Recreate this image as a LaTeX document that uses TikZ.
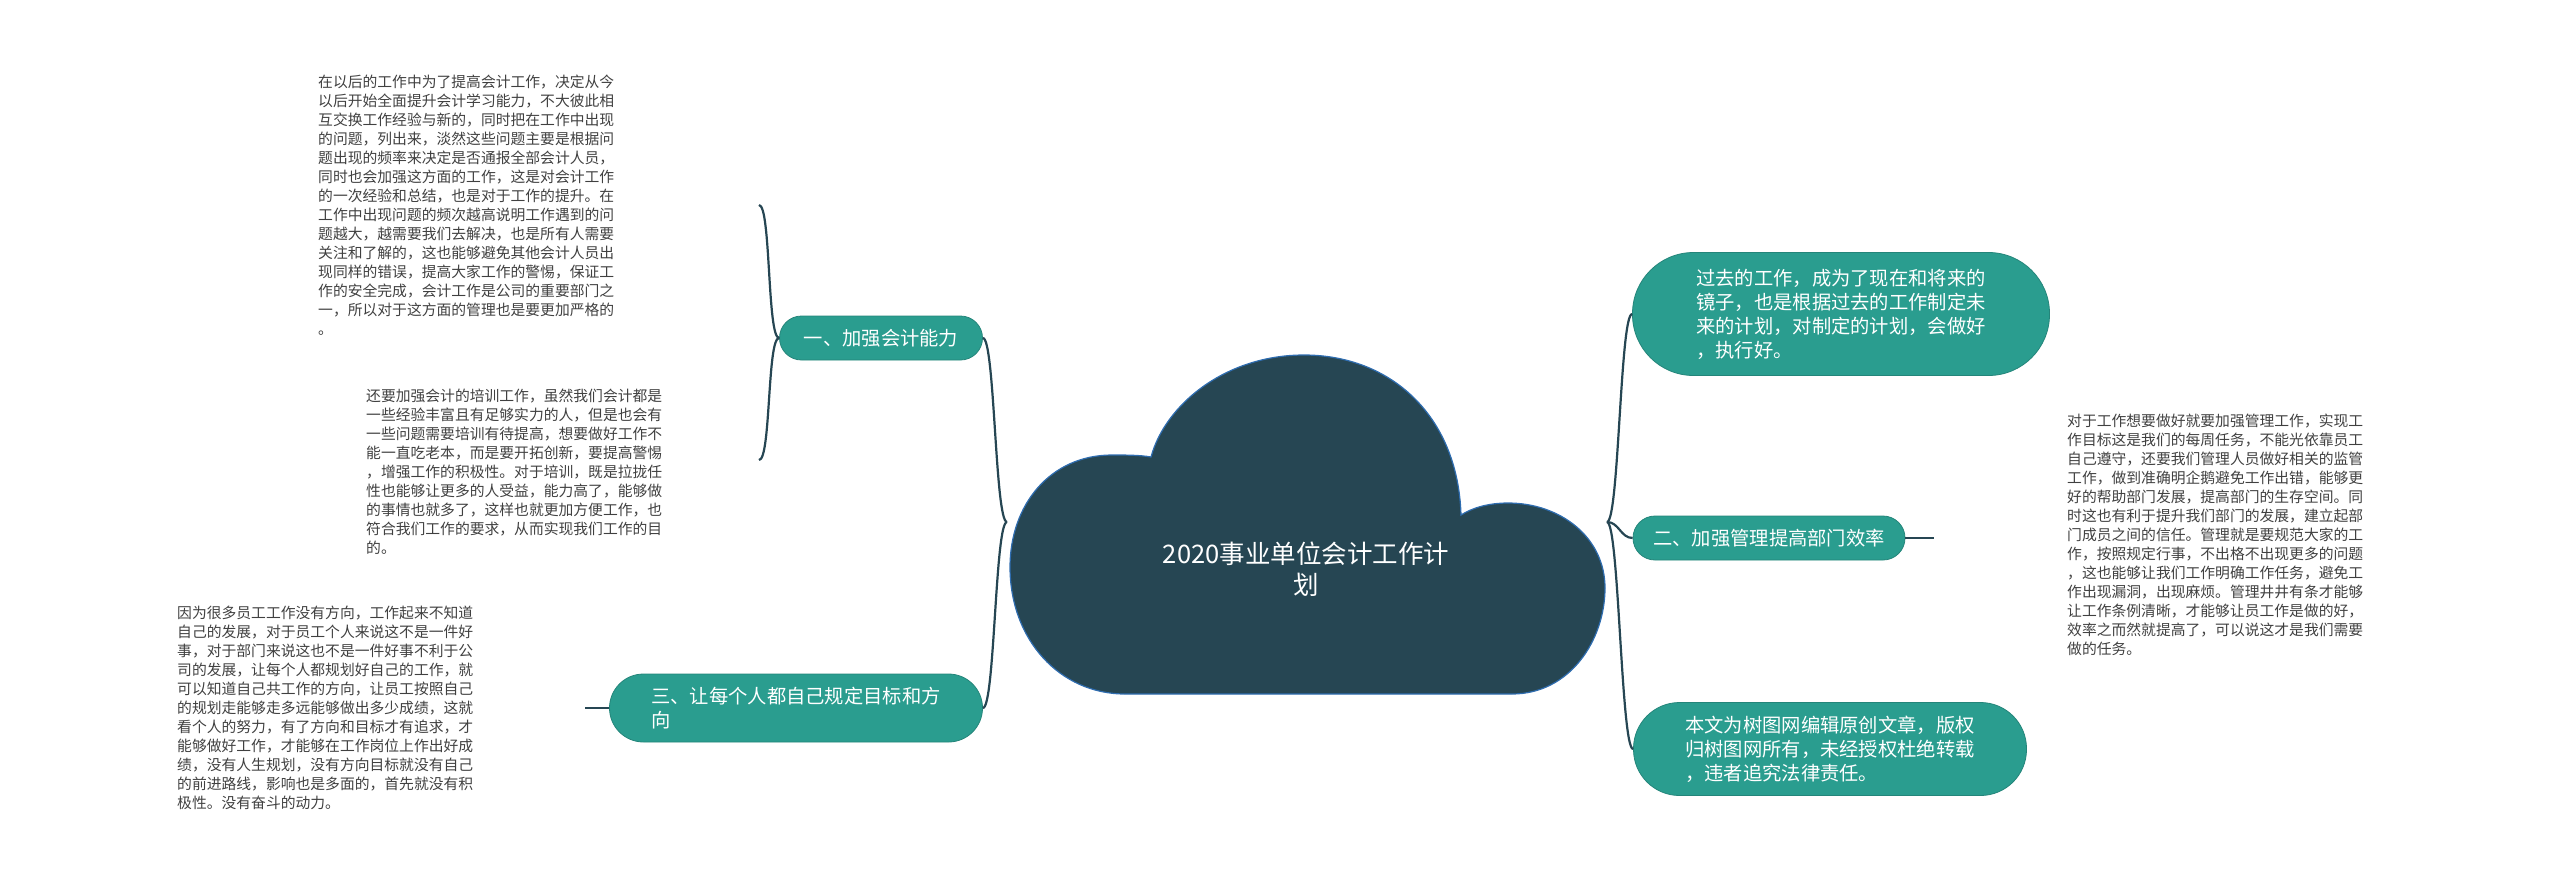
\documentclass[tikz,border=0pt]{standalone}
\usepackage{fontspec}
\setmainfont{Noto Sans CJK SC}
\definecolor{cloudfill}{HTML}{264653}
\definecolor{cloudline}{HTML}{2F6DB0}
\definecolor{topicfill}{HTML}{2A9D8F}
\definecolor{memotext}{HTML}{404040}
\tikzset{
  topic/.style={fill=topicfill, draw=topicfill!85!black, line width=0.8pt, text=white,
    rounded corners=#1, inner sep=0pt, align=left, font=\fontsize{19.3pt}{24pt}\selectfont},
  memo/.style={anchor=west, inner sep=0pt, align=left, text=memotext,
    font=\fontsize{14.8pt}{19pt}\selectfont},
  link/.style={draw=cloudfill, line width=2.2pt},
}
\begin{document}
\begin{tikzpicture}[x=1pt,y=-1pt] %[scale=0.8]
  \useasboundingbox (0,0) rectangle (2560,887);
  % cloud
  \filldraw[fill=cloudfill, draw=cloudline, line width=1.2pt]
    (1125,694) -- (1512,694)
    .. controls (1570,694) and (1605,640) .. (1605,588)
    .. controls (1605,537) and (1560,503) .. (1508,503)
    .. controls (1488,503) and (1472,508) .. (1461,515)
    .. controls (1458,415) and (1390,355) .. (1304,355)
    .. controls (1225,355) and (1165,405) .. (1151,457)
    .. controls (1140,455) and (1125,455) .. (1112,455)
    .. controls (1050,455) and (1010,505) .. (1010,567)
    .. controls (1010,640) and (1060,694) .. (1125,694) -- cycle;
  \node[text=white, align=center, font=\fontsize{25.5pt}{31pt}\selectfont] (c) at (1306,569)
    {2020事业单位会计工作计\\划};
  \coordinate (cl) at (1007,522);
  \coordinate (cr) at (1607,522);
  % left side
  \node[topic=22pt, minimum width=203pt, minimum height=44pt] (n1) at (881,338) {一、加强会计能力};
  \node[topic=34pt, minimum width=373pt, minimum height=68pt] (n3) at (796,708)
    {三、让每个人都自己规定目标和方\\向};
  \node[memo] (t1) at (318,205) {在以后的工作中为了提高会计工作，决定从今\\以后开始全面提升会计学习能力，不大彼此相\\互交换工作经验与新的，同时把在工作中出现\\的问题，列出来，淡然这些问题主要是根据问\\题出现的频率来决定是否通报全部会计人员，\\同时也会加强这方面的工作，这是对会计工作\\的一次经验和总结，也是对于工作的提升。在\\工作中出现问题的频次越高说明工作遇到的问\\题越大，越需要我们去解决，也是所有人需要\\关注和了解的，这也能够避免其他会计人员出\\现同样的错误，提高大家工作的警惕，保证工\\作的安全完成，会计工作是公司的重要部门之\\一，所以对于这方面的管理也是要更加严格的\\。};
  \node[memo] (t2) at (366,472) {还要加强会计的培训工作，虽然我们会计都是\\一些经验丰富且有足够实力的人，但是也会有\\一些问题需要培训有待提高，想要做好工作不\\能一直吃老本，而是要开拓创新，要提高警惕\\，增强工作的积极性。对于培训，既是拉拢任\\性也能够让更多的人受益，能力高了，能够做\\的事情也就多了，这样也就更加方便工作，也\\符合我们工作的要求，从而实现我们工作的目\\的。};
  \node[memo] (t3) at (177,708) {因为很多员工工作没有方向，工作起来不知道\\自己的发展，对于员工个人来说这不是一件好\\事，对于部门来说这也不是一件好事不利于公\\司的发展，让每个人都规划好自己的工作，就\\可以知道自己共工作的方向，让员工按照自己\\的规划走能够走多远能够做出多少成绩，这就\\看个人的努力，有了方向和目标才有追求，才\\能够做好工作，才能够在工作岗位上作出好成\\绩，没有人生规划，没有方向目标就没有自己\\的前进路线，影响也是多面的，首先就没有积\\极性。没有奋斗的动力。};
  \coordinate (e1) at (759,205);
  \coordinate (e2) at (759,460);
  \coordinate (e3) at (585,708);
  % right side
  \node[topic=61pt, minimum width=417pt, minimum height=123pt] (r1) at (1841,314)
    {过去的工作，成为了现在和将来的\\镜子，也是根据过去的工作制定未\\来的计划，对制定的计划，会做好\\，执行好。};
  \node[topic=22pt, minimum width=272pt, minimum height=44pt] (n2) at (1769,538) {二、加强管理提高部门效率};
  \node[topic=46pt, minimum width=393pt, minimum height=93pt] (r3) at (1830,749)
    {本文为树图网编辑原创文章，版权\\归树图网所有，未经授权杜绝转载\\，违者追究法律责任。};
  \node[memo] (t4) at (2067,535) {对于工作想要做好就要加强管理工作，实现工\\作目标这是我们的每周任务，不能光依靠员工\\自己遵守，还要我们管理人员做好相关的监管\\工作，做到准确明企鹅避免工作出错，能够更\\好的帮助部门发展，提高部门的生存空间。同\\时这也有利于提升我们部门的发展，建立起部\\门成员之间的信任。管理就是要规范大家的工\\作，按照规定行事，不出格不出现更多的问题\\，这也能够让我们工作明确工作任务，避免工\\作出现漏洞，出现麻烦。管理井井有条才能够\\让工作条例清晰，才能够让员工作是做的好，\\效率之而然就提高了，可以说这才是我们需要\\做的任务。};
  \coordinate (e4) at (1934,538);
  % connectors
  \draw[link] (cl) .. controls +(-12,0) and +(12,0) .. (n1.east);
  \draw[link] (cl) .. controls +(-12,0) and +(12,0) .. (n3.east);
  \draw[link] (n1.west) .. controls +(-12,0) and +(12,0) .. (e1);
  \draw[link] (n1.west) .. controls +(-12,0) and +(12,0) .. (e2);
  \draw[link] (n3.west) -- (e3);
  \draw[link] (cr) .. controls +(12,0) and +(-12,0) .. (r1.west);
  \draw[link] (cr) .. controls +(12,0) and +(-12,0) .. (n2.west);
  \draw[link] (cr) .. controls +(12,0) and +(-12,0) .. (r3.west);
  \draw[link] (n2.east) -- (e4);
\end{tikzpicture}
\end{document}
